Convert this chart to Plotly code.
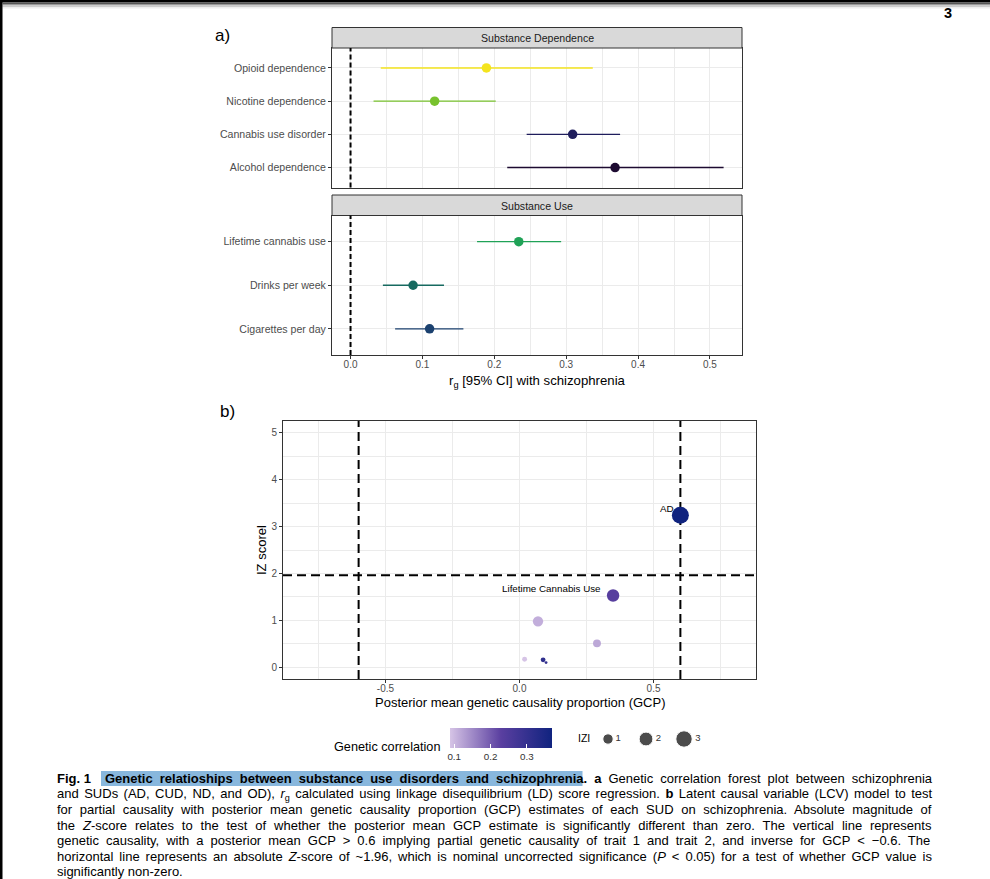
import plotly.graph_objects as go

W, H = 990, 879
def fx(p): return p / W
def fy(p): return 1 - p / H

FONT = "Liberation Sans, Arial, Helvetica, sans-serif"
AX_TXT = "#4d4d4d"
GRID = "#ebebeb"

# ---------------- Panel a data ----------------
dep_traits = ["Alcohol dependence", "Cannabis use disorder", "Nicotine dependence", "Opioid dependence"]
dep_rg = [0.368, 0.309, 0.117, 0.189]
dep_lo = [0.218, 0.245, 0.032, 0.042]
dep_hi = [0.519, 0.375, 0.202, 0.337]
dep_colors = ["#1d0b31", "#1f1d5c", "#78c22e", "#f4e41e"]

use_traits = ["Cigarettes per day", "Drinks per week", "Lifetime cannabis use"]
use_rg = [0.110, 0.087, 0.234]
use_lo = [0.062, 0.045, 0.176]
use_hi = [0.157, 0.130, 0.293]
use_colors = ["#1b416f", "#176a60", "#20a257"]

facet_titles = ["Substance Dependence", "Substance Use"]

# ---------------- Panel b data ----------------
lcv_label = ["AD", "Lifetime Cannabis Use", "", "", "", "", ""]
lcv_gcp = [0.600, 0.349, 0.069, 0.289, 0.019, 0.088, 0.099]
lcv_absz = [3.24, 1.53, 0.98, 0.51, 0.17, 0.16, 0.10]
lcv_rg = [0.368, 0.234, 0.110, 0.117, 0.087, 0.309, 0.300]
gcp_cut = [-0.6, 0.6]
z_cut = 1.96
size_legend_vals = [1, 2, 3]
cbar_ticks = [0.1, 0.2, 0.3]
gcp_ticks = [-0.5, 0.0, 0.5]
gcp_ticktext = ["-0.5", "0.0", "0.5"]
label_shift = [(-4, 7), (-10, 7)]

GCP_RANGE = [-0.882, 0.882]
Z_RANGE = [-0.25, 5.25]
CSCALE = [[0, "#d6c4e6"], [0.5, "#5a3fa0"], [1, "#10237f"]]

zmin, zmax = min(lcv_absz), max(lcv_absz)
def zsize(z):
    x = max(z - zmin, 0) / (zmax - zmin)
    return 2.83 * (1 + 5 * x ** 0.5)

fig = go.Figure()

# Panel a traces
for trait, rg, lo, hi, col in zip(dep_traits, dep_rg, dep_lo, dep_hi, dep_colors):
    fig.add_trace(go.Scatter(
        x=[rg], y=[trait], mode="markers", xaxis="x", yaxis="y",
        marker=dict(color=col, size=9.5),
        error_x=dict(type="data", symmetric=False, array=[hi - rg], arrayminus=[rg - lo],
                     color=col, thickness=1.4, width=0),
        showlegend=False, hoverinfo="skip"))
for trait, rg, lo, hi, col in zip(use_traits, use_rg, use_lo, use_hi, use_colors):
    fig.add_trace(go.Scatter(
        x=[rg], y=[trait], mode="markers", xaxis="x2", yaxis="y2",
        marker=dict(color=col, size=9.5),
        error_x=dict(type="data", symmetric=False, array=[hi - rg], arrayminus=[rg - lo],
                     color=col, thickness=1.4, width=0),
        showlegend=False, hoverinfo="skip"))

# Panel b reference lines (drawn beneath the points)
DASH_B = dict(color="black", width=2, dash="9px,5px")
for g in gcp_cut:
    fig.add_trace(go.Scatter(x=[g, g], y=Z_RANGE, mode="lines", line=DASH_B, xaxis="x3", yaxis="y3",
                             showlegend=False, hoverinfo="skip"))
fig.add_trace(go.Scatter(x=GCP_RANGE, y=[z_cut, z_cut], mode="lines", line=DASH_B, xaxis="x3", yaxis="y3",
                         showlegend=False, hoverinfo="skip"))

# Panel b points
fig.add_trace(go.Scatter(
    x=lcv_gcp, y=lcv_absz, mode="markers", xaxis="x3", yaxis="y3",
    marker=dict(size=[zsize(z) for z in lcv_absz], color=lcv_rg, colorscale=CSCALE,
                cmin=min(lcv_rg), cmax=max(lcv_rg), line=dict(width=0), opacity=1,
                showscale=True,
                colorbar=dict(orientation="h", lenmode="pixels", len=102, thickness=20,
                              x=fx(500.5), xanchor="center", y=fy(727.5), yanchor="top",
                              xpad=0, ypad=0, outlinewidth=0,
                              tickvals=cbar_ticks, ticktext=[f"{v:.1f}" for v in cbar_ticks],
                              ticks="inside", ticklen=4, tickcolor="white", tickwidth=1,
                              tickfont=dict(family=FONT, size=9.8, color="#333333"))),
    showlegend=False, hoverinfo="skip"))

# Size legend
fig.add_trace(go.Scatter(
    x=size_legend_vals, y=[0] * len(size_legend_vals), mode="markers+text", xaxis="x4", yaxis="y4",
    marker=dict(color="black", size=[zsize(v) for v in size_legend_vals]),
    text=[str(v) for v in size_legend_vals], textposition="middle right",
    textfont=dict(family=FONT, size=9.5, color="#333333"),
    showlegend=False, hoverinfo="skip"))

common = dict(showline=True, mirror=True, linecolor="#333333", linewidth=1,
              ticks="outside", ticklen=3, tickcolor="#333333", tickwidth=1,
              showgrid=True, gridcolor=GRID, gridwidth=1, zeroline=False,
              tickfont=dict(family=FONT, size=10, color=AX_TXT))

xa_range = [-0.0258, 0.5446]
fig.update_layout(
    width=W, height=H, margin=dict(l=0, r=0, t=0, b=0),
    paper_bgcolor="white", plot_bgcolor="white",
    font=dict(family=FONT, color="black"),
    xaxis=dict(common, domain=[fx(332), fx(742)], range=xa_range, tick0=0, dtick=0.1,
               showticklabels=False, ticks="", anchor="y",
               minor=dict(tick0=0, dtick=0.05, showgrid=True, gridcolor=GRID, gridwidth=0.5)),
    yaxis=dict(common, domain=[fy(187.5), fy(48)], type="category", categoryorder="array",
               categoryarray=dep_traits, range=[-0.6, 3.6], anchor="x",
               tickfont=dict(family=FONT, size=10.6, color=AX_TXT)),
    xaxis2=dict(common, domain=[fx(332), fx(742)], range=xa_range, tick0=0, dtick=0.1,
                tickformat=".1f", anchor="y2", ticklabelstandoff=-3,
                minor=dict(tick0=0, dtick=0.05, showgrid=True, gridcolor=GRID, gridwidth=0.5)),
    yaxis2=dict(common, domain=[fy(355), fy(215.5)], type="category", categoryorder="array",
                categoryarray=use_traits, range=[-0.6, 2.6], anchor="x2",
                tickfont=dict(family=FONT, size=10.6, color=AX_TXT)),
    xaxis3=dict(common, domain=[fx(283), fx(756)], range=GCP_RANGE, tickmode="array",
                tickvals=gcp_ticks, ticktext=gcp_ticktext, anchor="y3", ticklabelstandoff=-3,
                minor=dict(tickmode="linear", tick0=0, dtick=0.25, showgrid=True, gridcolor=GRID,
                           gridwidth=0.5)),
    yaxis3=dict(common, domain=[fy(679), fy(421)], range=Z_RANGE, tick0=0, dtick=1,
                anchor="x3",
                minor=dict(tick0=0, dtick=0.5, showgrid=True, gridcolor=GRID, gridwidth=0.5)),
    xaxis4=dict(visible=False, domain=[fx(570), fx(720)], range=[0, 3.947], anchor="y4"),
    yaxis4=dict(visible=False, domain=[fy(749), fy(729)], range=[-1, 1], anchor="x4"),
)

shapes = []
# page edges
shapes.append(dict(type="rect", xref="paper", yref="paper", x0=0, x1=1, y0=fy(2.5), y1=1,
                   fillcolor="black", line=dict(width=0)))
for (a, b, c) in [(2.5, 4, "#555555"), (4, 5.5, "#999999"), (5.5, 7, "#cccccc"), (7, 8.5, "#eeeeee")]:
    shapes.append(dict(type="rect", xref="paper", yref="paper", x0=fx(2.5), x1=1, y0=fy(b), y1=fy(a),
                       fillcolor=c, line=dict(width=0)))
shapes.append(dict(type="rect", xref="paper", yref="paper", x0=0, x1=fx(2.5), y0=0, y1=1,
                   fillcolor="black", line=dict(width=0)))
# facet strips
for (t, b) in [(27.5, 48), (195, 215.5)]:
    shapes.append(dict(type="rect", xref="paper", yref="paper", x0=fx(332), x1=fx(742),
                       y0=fy(b), y1=fy(t), fillcolor="#d9d9d9", line=dict(color="#333333", width=1)))
# zero reference lines, panel a
for xr, yr in [("x", "y domain"), ("x2", "y2 domain")]:
    shapes.append(dict(type="line", xref=xr, yref=yr, x0=0, x1=0, y0=0, y1=1, layer="above",
                       line=dict(color="black", width=2, dash="5px,3px")))

ann = []
def A(x, y, text, size, **kw):
    d = dict(xref="paper", yref="paper", x=fx(x), y=fy(y), text=text, showarrow=False,
             font=dict(family=FONT, size=size, color=kw.pop("color", "black")),
             xanchor=kw.pop("xanchor", "center"), yanchor=kw.pop("yanchor", "middle"))
    d.update(kw)
    ann.append(d)

A(947.5, 13, "<b>3</b>", 14.5)
A(222, 36, "a)", 17)
A(227, 411, "b)", 17)
A(537, 38, facet_titles[0], 10.6, color="#1a1a1a")
A(537, 205.5, facet_titles[1], 10.6, color="#1a1a1a")
A(537, 381, "r<sub>g</sub> [95% CI] with schizophrenia", 13.2)
A(519.5, 702, "Posterior mean genetic causality proportion (GCP)", 13)
A(261, 550, "IZ scorel", 13, textangle=-90)
A(443, 747, "Genetic correlation", 12.7, xanchor="right")
A(584, 738, "IZI", 10.5)

for i, lab in enumerate(lcv_label):
    if lab:
        sx, sy = label_shift[i]
        ann.append(dict(xref="x3", yref="y3", x=lcv_gcp[i], y=lcv_absz[i], text=lab, showarrow=False,
                        xanchor="right", yanchor="middle", xshift=sx, yshift=sy,
                        font=dict(family=FONT, size=9.8, color="black")))

# ---------------- Caption ----------------
REG = {' ': 278, '(': 333, ')': 333, ',': 278, '-': 333, '.': 278, '<': 584, '>': 584, '~': 584, '\u2212': 584,
       'A': 667, 'B': 667, 'C': 722, 'D': 722, 'E': 667, 'F': 611, 'G': 778, 'H': 722, 'I': 278, 'J': 500,
       'K': 667, 'L': 556, 'M': 833, 'N': 722, 'O': 778, 'P': 667, 'Q': 778, 'R': 722, 'S': 667, 'T': 611,
       'U': 722, 'V': 667, 'W': 944, 'X': 667, 'Y': 667, 'Z': 611,
       'a': 556, 'b': 556, 'c': 500, 'd': 556, 'e': 556, 'f': 278, 'g': 556, 'h': 556, 'i': 222, 'j': 222,
       'k': 500, 'l': 222, 'm': 833, 'n': 556, 'o': 556, 'p': 556, 'q': 556, 'r': 333, 's': 500, 't': 278,
       'u': 556, 'v': 500, 'w': 722, 'x': 500, 'y': 500, 'z': 500}
BOLD = {'a': 556, 'b': 611, 'c': 556, 'd': 611, 'e': 556, 'f': 333, 'g': 611, 'h': 611, 'i': 278, 'j': 278,
        'k': 556, 'l': 278, 'm': 889, 'n': 611, 'o': 611, 'p': 611, 'q': 611, 'r': 389, 's': 556, 't': 333,
        'u': 611, 'v': 556, 'w': 778, 'x': 556, 'y': 556, 'z': 500, 'G': 778, 'F': 611, ' ': 278, '.': 278}
CAP_SIZE = 13

def seg_width(segs):
    w = 0
    for t, st in segs:
        sc = 0.7 if st == "sub" else 1.0
        tab = BOLD if st == "b" else REG
        for ch in t:
            w += tab.get(ch, REG.get(ch, 556)) * CAP_SIZE * sc / 1000
    return w

def esc(t):
    return t.replace("&", "&amp;").replace("<", "&lt;").replace(">", "&gt;")

def build(segs, target):
    nat = seg_width(segs)
    nsp = sum(t.count(" ") for t, st in segs)
    ws = (target - nat) / nsp if (target and nsp) else 0
    out = []
    for t, st in segs:
        if st == "sub":
            out.append(f"<sub>{esc(t)}</sub>")
            continue
        style = f"word-spacing:{ws:.2f}px"
        if st == "b":
            style += ";font-weight:bold"
        if st == "i":
            style += ";font-style:italic"
        out.append(f'<span style="{style}">{esc(t)}</span>')
    return "".join(out), ws

cap_lines = [
    [("Genetic relatioships between substance use disorders and schizophrenia", "b"), (". a", "b"),
     (" Genetic correlation forest plot between schizophrenia", "r")],
    [("and SUDs (AD, CUD, ND, and OD), ", "r"), ("r", "i"), ("g", "sub"),
     (" calculated using linkage disequilibrium (LD) score regression. ", "r"), ("b", "b"),
     (" Latent causal variable (LCV) model to test", "r")],
    [("for partial causality with posterior mean genetic causality proportion (GCP) estimates of each SUD on schizophrenia. Absolute magnitude of", "r")],
    [("the ", "r"), ("Z", "i"), ("-score relates to the test of whether the posterior mean GCP estimate is significantly different than zero. The vertical line represents", "r")],
    [("genetic causality, with a posterior mean GCP > 0.6 implying partial genetic causality of trait 1 and trait 2, and inverse for GCP < \u22120.6. The", "r")],
    [("horizontal line represents an absolute ", "r"), ("Z", "i"),
     ("-score of ~1.96, which is nominal uncorrected significance (", "r"), ("P", "i"),
     (" < 0.05) for a test of whether GCP value is", "r")],
    [("significantly non-zero.", "r")],
]
CAP_LEFT, CAP_RIGHT, CAP_TOP, CAP_STEP = 55, 930, 778.5, 15.55
TITLE_LEFT = 103
A(CAP_LEFT, CAP_TOP, "<b>Fig. 1</b>", CAP_SIZE, xanchor="left")
for i, segs in enumerate(cap_lines):
    left = TITLE_LEFT if i == 0 else CAP_LEFT
    target = (CAP_RIGHT - left) if i < len(cap_lines) - 1 else None
    html, ws = build(segs, target)
    if i == 0:
        hl = segs[0][0]
        hl_end = TITLE_LEFT + seg_width([segs[0]]) + hl.count(" ") * ws
        shapes.append(dict(type="rect", xref="paper", yref="paper", x0=fx(TITLE_LEFT - 2), x1=fx(hl_end + 1),
                           y0=fy(786), y1=fy(771), fillcolor="#88b7dd", line=dict(width=0), layer="below"))
    A(left, CAP_TOP + i * CAP_STEP, html, CAP_SIZE, xanchor="left", align="left")

fig.update_layout(shapes=shapes, annotations=ann)
fig.write_html("out.html", config={"displayModeBar": False},
               post_script="document.body.style.margin='0';document.body.style.overflow='hidden';")
